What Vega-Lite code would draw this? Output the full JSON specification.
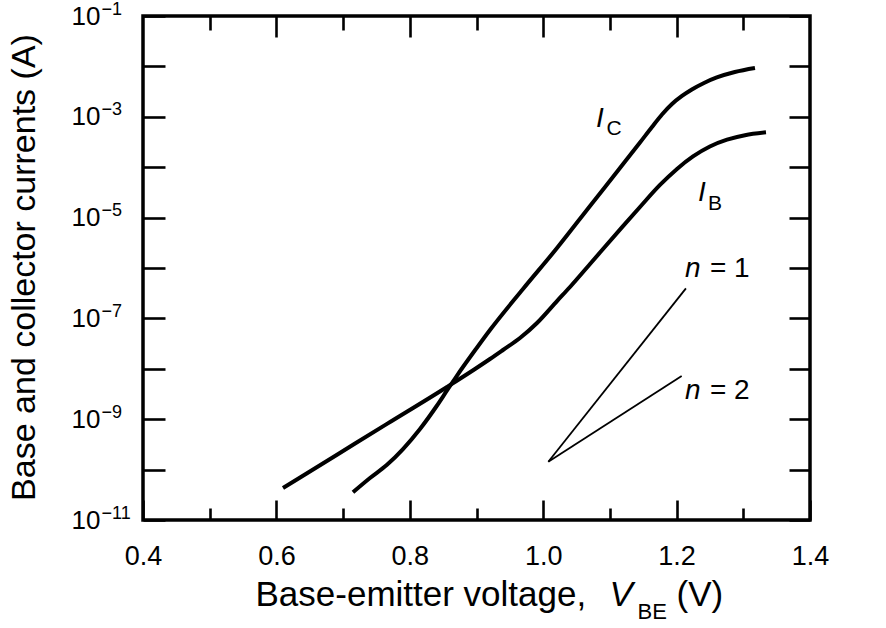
{
  "$schema": "https://vega.github.io/schema/vega-lite/v6.json",
  "width": 667,
  "height": 504,
  "autosize": {"type": "none"},
  "padding": {"left": 143, "top": 16, "right": 76, "bottom": 108},
  "background": "#ffffff",
  "config": {
    "view": {"stroke": "#000000", "strokeWidth": 3.5},
    "font": "Liberation Sans",
    "axis": {
      "grid": false,
      "domain": false,
      "tickColor": "#000000",
      "tickWidth": 2.6,
      "labelColor": "#000000",
      "labelFont": "Liberation Sans",
      "labelFontSize": 27,
      "titleColor": "#000000",
      "titleFont": "Liberation Sans",
      "titleFontSize": 35,
      "titleFontWeight": "normal",
      "labelFlush": false,
      "labelOverlap": false
    }
  },
  "datasets": {
    "ic": [
      {"v": 0.7148, "i": 3.55e-11},
      {"v": 0.7403, "i": 6.81e-11},
      {"v": 0.7654, "i": 1.233e-10},
      {"v": 0.7898, "i": 2.56e-10},
      {"v": 0.8153, "i": 6.4e-10},
      {"v": 0.8403, "i": 1.828e-9},
      {"v": 0.8553, "i": 3.63e-9},
      {"v": 0.8703, "i": 7.19e-9},
      {"v": 0.9003, "i": 2.59e-8},
      {"v": 0.9202, "i": 5.89e-8},
      {"v": 0.9697, "i": 3.83e-7},
      {"v": 1.0207, "i": 2.49e-6},
      {"v": 1.0702, "i": 1.7e-5},
      {"v": 1.1151, "i": 9.64e-5},
      {"v": 1.1451, "i": 3.09e-4},
      {"v": 1.1631, "i": 6.28e-4},
      {"v": 1.1781, "i": 1.112e-3},
      {"v": 1.1931, "i": 1.795e-3},
      {"v": 1.2081, "i": 2.59e-3},
      {"v": 1.2229, "i": 3.48e-3},
      {"v": 1.2411, "i": 4.69e-3},
      {"v": 1.2603, "i": 6.03e-3},
      {"v": 1.2873, "i": 7.74e-3},
      {"v": 1.3175, "i": 9.29e-3}
    ],
    "ib": [
      {"v": 0.6099, "i": 4.32e-11},
      {"v": 0.6909, "i": 1.977e-10},
      {"v": 0.7658, "i": 8.07e-10},
      {"v": 0.8558, "i": 4.36e-9},
      {"v": 0.8978, "i": 9.91e-9},
      {"v": 0.9202, "i": 1.563e-8},
      {"v": 0.9397, "i": 2.36e-8},
      {"v": 0.9652, "i": 4.08e-8},
      {"v": 0.9907, "i": 8.11e-8},
      {"v": 1.0207, "i": 2.21e-7},
      {"v": 1.0402, "i": 4.2e-7},
      {"v": 1.0702, "i": 1.2e-6},
      {"v": 1.1193, "i": 6.68e-6},
      {"v": 1.1451, "i": 1.622e-5},
      {"v": 1.1751, "i": 4.44e-5},
      {"v": 1.2006, "i": 9.25e-5},
      {"v": 1.2246, "i": 1.637e-4},
      {"v": 1.2499, "i": 2.58e-4},
      {"v": 1.2756, "i": 3.52e-4},
      {"v": 1.3025, "i": 4.32e-4},
      {"v": 1.334, "i": 4.92e-4}
    ],
    "ideal": [
      {"n": "1", "v": 1.0077, "i": 1.435e-10},
      {"n": "1", "v": 1.214, "i": 3.95e-7},
      {"n": "2", "v": 1.0077, "i": 1.435e-10},
      {"n": "2", "v": 1.2076, "i": 7.19e-9}
    ],
    "italic": [
      {"t": "I", "v": 1.079, "i": 6.19e-4},
      {"t": "I", "v": 1.232, "i": 2.16e-5},
      {"t": "n", "v": 1.2126, "i": 6.71e-7},
      {"t": "n", "v": 1.2126, "i": 2.51e-9}
    ],
    "sub": [
      {"t": "C", "v": 1.095, "i": 4.36e-4},
      {"t": "B", "v": 1.247, "i": 1.416e-5}
    ],
    "plain": [
      {"t": "= 1", "v": 1.25, "i": 6.71e-7},
      {"t": "= 2", "v": 1.25, "i": 2.51e-9}
    ]
  },
  "resolve": {
    "scale": {"x": "shared", "y": "shared"},
    "axis": {"x": "independent", "y": "independent"}
  },
  "layer": [
    {
      "data": {"name": "ic"},
      "mark": {"type": "line", "stroke": "#000000", "strokeWidth": 4, "interpolate": "monotone"},
      "encoding": {
        "x": {
          "field": "v", "type": "quantitative",
          "scale": {"domain": [0.4, 1.4], "nice": false, "zero": false},
          "axis": {
            "orient": "bottom",
            "values": [0.4, 0.6, 0.8, 1.0, 1.2, 1.4],
            "tickSize": -20,
            "labelPadding": 43,
            "format": ".1f",
            "title": "Base-emitter voltage,",
            "titleAlign": "left",
            "titleAnchor": "start",
            "titleX": 112,
            "titleY": 85,
            "titleBaseline": "alphabetic"
          }
        },
        "y": {
          "field": "i", "type": "quantitative",
          "scale": {"type": "log", "domain": [1e-11, 0.1], "nice": false},
          "axis": {
            "orient": "left",
            "values": [1e-11, 1e-10, 1e-9, 1e-8, 1e-7, 1e-6, 1e-5, 1e-4, 1e-3, 1e-2, 1e-1],
            "tickSize": -22,
            "labelPadding": 65,
            "labelBaseline": "middle",
            "labelFontSize": 26,
            "labelExpr": "round(-log(datum.value)/LN10) % 2 == 1 ? '10' : ''",
            "title": "Base and collector currents (A)",
            "titleFontSize": 34,
            "titleAngle": 270,
            "titleX": -109,
            "titleY": 251,
            "titleAlign": "center",
            "titleBaseline": "alphabetic"
          }
        }
      }
    },
    {
      "data": {"name": "ib"},
      "mark": {"type": "line", "stroke": "#000000", "strokeWidth": 4, "interpolate": "monotone"},
      "encoding": {
        "x": {
          "field": "v", "type": "quantitative",
          "scale": {"domain": [0.4, 1.4], "nice": false, "zero": false},
          "axis": {
            "orient": "bottom",
            "values": [0.5, 0.7, 0.9, 1.1, 1.3],
            "tickSize": -12,
            "labels": false,
            "title": "V",
            "titleFontStyle": "italic",
            "titleAlign": "left",
            "titleAnchor": "start",
            "titleX": 466,
            "titleY": 85,
            "titleBaseline": "alphabetic"
          }
        },
        "y": {
          "field": "i", "type": "quantitative",
          "scale": {"type": "log", "domain": [1e-11, 0.1], "nice": false},
          "axis": {
            "orient": "right",
            "values": [1e-11, 1e-10, 1e-9, 1e-8, 1e-7, 1e-6, 1e-5, 1e-4, 1e-3, 1e-2, 1e-1],
            "tickSize": -21,
            "labels": false,
            "title": null
          }
        }
      }
    },
    {
      "data": {"name": "ideal"},
      "mark": {"type": "line", "stroke": "#000000", "strokeWidth": 1.8},
      "encoding": {
        "detail": {"field": "n", "type": "nominal"},
        "x": {
          "field": "v", "type": "quantitative",
          "scale": {"domain": [0.4, 1.4], "nice": false, "zero": false},
          "axis": {
            "orient": "top",
            "values": [0.6, 0.8, 1.0, 1.2],
            "tickSize": -21,
            "labels": false,
            "title": null
          }
        },
        "y": {
          "field": "i", "type": "quantitative",
          "scale": {"type": "log", "domain": [1e-11, 0.1], "nice": false},
          "axis": null
        }
      }
    },
    {
      "data": {"name": "italic"},
      "mark": {"type": "text", "font": "Liberation Sans", "fontStyle": "italic", "fontSize": 28, "align": "left", "baseline": "alphabetic", "color": "#000000"},
      "encoding": {
        "text": {"field": "t"},
        "x": {
          "field": "v", "type": "quantitative",
          "scale": {"domain": [0.4, 1.4], "nice": false, "zero": false},
          "axis": {
            "orient": "top",
            "values": [0.5, 0.7, 0.9, 1.1, 1.3],
            "tickSize": -14,
            "labels": false,
            "title": null
          }
        },
        "y": {
          "field": "i", "type": "quantitative",
          "scale": {"type": "log", "domain": [1e-11, 0.1], "nice": false},
          "axis": null
        }
      }
    },
    {
      "data": {"name": "sub"},
      "mark": {"type": "text", "font": "Liberation Sans", "fontSize": 21, "align": "left", "baseline": "alphabetic", "color": "#000000"},
      "encoding": {
        "text": {"field": "t"},
        "x": {
          "field": "v", "type": "quantitative",
          "scale": {"domain": [0.4, 1.4], "nice": false, "zero": false},
          "axis": {
            "orient": "bottom",
            "ticks": false,
            "labels": false,
            "title": "BE",
            "titleFontSize": 22,
            "titleAlign": "left",
            "titleAnchor": "start",
            "titleX": 494,
            "titleY": 98,
            "titleBaseline": "alphabetic"
          }
        },
        "y": {
          "field": "i", "type": "quantitative",
          "scale": {"type": "log", "domain": [1e-11, 0.1], "nice": false},
          "axis": {
            "orient": "left",
            "values": [1e-11, 1e-10, 1e-9, 1e-8, 1e-7, 1e-6, 1e-5, 1e-4, 1e-3, 1e-2, 1e-1],
            "ticks": false,
            "labelPadding": 42,
            "labelAlign": "left",
            "labelBaseline": "middle",
            "labelOffset": -7,
            "labelFontSize": 18,
            "labelExpr": "round(-log(datum.value)/LN10) % 2 == 1 ? '−' + round(-log(datum.value)/LN10) : ''",
            "title": null
          }
        }
      }
    },
    {
      "data": {"name": "plain"},
      "mark": {"type": "text", "font": "Liberation Sans", "fontSize": 28, "align": "left", "baseline": "alphabetic", "color": "#000000"},
      "encoding": {
        "text": {"field": "t"},
        "x": {
          "field": "v", "type": "quantitative",
          "scale": {"domain": [0.4, 1.4], "nice": false, "zero": false},
          "axis": {
            "orient": "bottom",
            "ticks": false,
            "labels": false,
            "title": "(V)",
            "titleAlign": "left",
            "titleAnchor": "start",
            "titleX": 533,
            "titleY": 85,
            "titleBaseline": "alphabetic"
          }
        },
        "y": {
          "field": "i", "type": "quantitative",
          "scale": {"type": "log", "domain": [1e-11, 0.1], "nice": false},
          "axis": null
        }
      }
    }
  ]
}
